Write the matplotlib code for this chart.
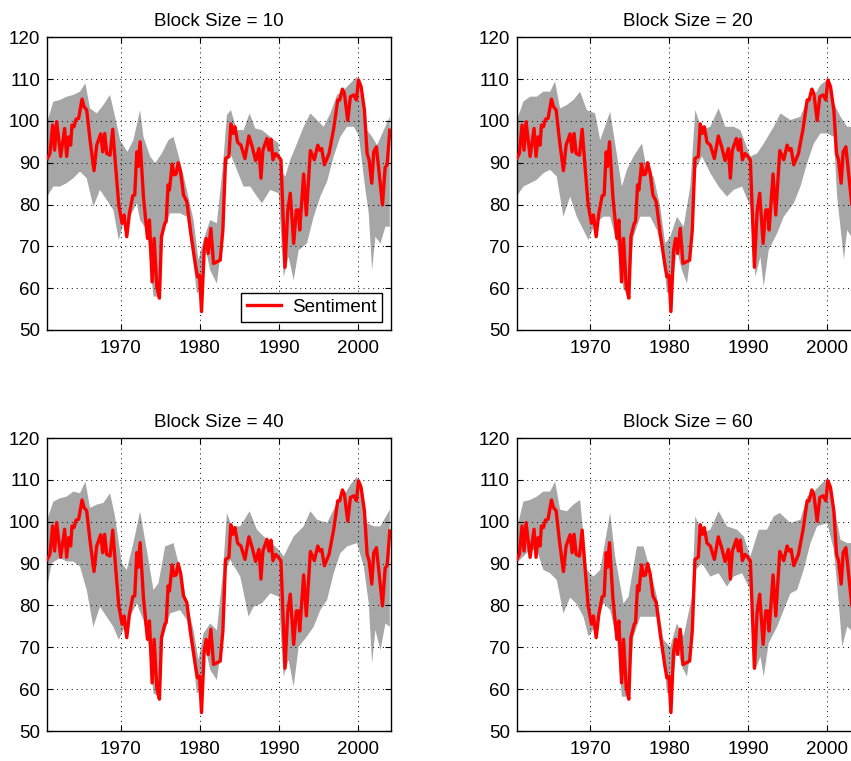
import numpy as np
import matplotlib
matplotlib.use("Agg")
import matplotlib.pyplot as plt

plt.rcParams['font.family'] = ['Liberation Sans', 'DejaVu Sans']

# sentiment series
sent_year = [1960.72, 1961.05, 1961.39, 1961.64, 1961.90, 1962.41, 1962.91, 1963.16, 1963.42,
             1963.67, 1963.84, 1964.09, 1964.35, 1964.68, 1965.11, 1965.36, 1965.70, 1966.12,
             1966.62, 1966.96, 1967.47, 1967.72, 1967.97, 1968.23, 1968.65, 1968.99, 1969.32,
             1969.75, 1970.17, 1970.42, 1970.76, 1971.10, 1971.52, 1971.77, 1972.03, 1972.19,
             1972.45, 1972.87, 1973.38, 1973.63, 1973.97, 1974.22, 1974.56, 1974.89, 1975.15,
             1975.57, 1975.74, 1975.99, 1976.16, 1976.50, 1976.75, 1977.00, 1977.26, 1977.59,
             1977.93, 1978.35, 1978.86, 1979.45, 1979.70, 1979.96, 1980.21, 1980.55, 1980.80,
             1981.05, 1981.39, 1981.73, 1982.15, 1982.57, 1982.91, 1983.25, 1983.67, 1983.92,
             1984.18, 1984.43, 1984.77, 1985.19, 1985.70, 1986.20, 1986.62, 1987.05, 1987.47,
             1987.72, 1987.97, 1988.48, 1988.73, 1988.99, 1989.24, 1989.58, 1989.92, 1990.25,
             1990.76, 1991.10, 1991.43, 1991.86, 1992.19, 1992.45, 1992.62, 1993.12, 1993.46,
             1993.97, 1994.47, 1994.90, 1995.15, 1995.40, 1995.74, 1996.33, 1996.92, 1997.43,
             1997.68, 1998.02, 1998.27, 1998.69, 1999.03, 1999.45, 1999.79, 2000.05, 2000.38,
             2000.80, 2001.14, 2001.39, 2001.73, 2001.98, 2002.32, 2002.66, 2003.08, 2003.42,
             2003.67, 2004.01]
sent_val = [91.0, 92.2, 99.0, 93.0, 99.8, 91.5, 98.2, 91.5, 96.2,
            94.2, 99.0, 98.6, 100.4, 100.6, 105.2, 103.4, 102.6, 95.4,
            88.1, 94.2, 96.9, 92.6, 97.0, 92.2, 91.8, 98.0, 89.9,
            79.9, 75.5, 77.5, 72.3, 77.9, 82.1, 82.3, 92.6, 89.1,
            95.0, 81.9, 71.9, 76.3, 61.5, 71.9, 60.4, 57.6, 72.3,
            75.5, 75.9, 84.7, 83.5, 89.7, 87.1, 87.3, 90.0, 87.5,
            82.3, 80.7, 73.1, 65.5, 62.7, 63.1, 54.4, 69.1, 71.9,
            68.3, 74.3, 65.9, 66.3, 66.7, 73.9, 91.0, 91.5, 99.3,
            97.0, 98.6, 94.9, 94.2, 91.0, 96.4, 93.8, 90.5, 93.4,
            86.3, 93.0, 95.8, 93.0, 95.6, 90.7, 92.2, 91.5, 90.7,
            65.0, 78.3, 82.7, 70.7, 78.7, 78.7, 73.9, 87.3, 77.5,
            92.9, 90.7, 94.2, 93.0, 93.4, 89.5, 92.2, 98.2, 105.0,
            105.0, 107.6, 106.6, 100.1, 105.8, 106.2, 105.0, 109.8, 108.2,
            102.6, 92.2, 90.7, 85.1, 92.6, 93.8, 87.5, 79.9, 88.9,
            89.5, 97.8]

block_sizes = [10, 20, 40, 60]

# bootstrap bands, one upper and one lower edge per block size
up_year = [
    [1960.72, 1961.48, 1962.32, 1963.16, 1964.01, 1964.85, 1965.53, 1966.12, 1966.96, 1967.81,
     1968.65, 1969.28, 1969.92, 1970.84, 1971.60, 1972.45, 1972.87, 1973.71, 1974.35, 1975.19,
     1976.03, 1976.67, 1977.51, 1978.36, 1979.20, 1979.83, 1980.46, 1981.31, 1982.15, 1982.91,
     1983.42, 1983.92, 1984.68, 1985.53, 1986.29, 1987.00, 1987.85, 1988.90, 1989.96, 1990.17,
     1990.80, 1991.43, 1992.28, 1993.12, 1993.97, 1994.81, 1995.65, 1996.50, 1997.34, 1998.19,
     1999.03, 1999.87, 2000.51, 2001.14, 2001.77, 2002.41, 2003.25, 2004.01],
    [1960.72, 1961.56, 1962.41, 1963.25, 1964.09, 1964.94, 1965.57, 1966.20, 1967.05, 1967.89,
     1968.73, 1969.58, 1970.63, 1971.27, 1972.53, 1973.16, 1974.01, 1974.64, 1975.49, 1976.54,
     1977.17, 1978.02, 1978.86, 1979.49, 1980.13, 1980.97, 1981.82, 1982.66, 1983.29, 1984.14,
     1985.19, 1986.24, 1987.09, 1988.14, 1988.99, 1990.25, 1991.10, 1991.94, 1993.21, 1994.05,
     1995.32, 1996.58, 1997.43, 1998.27, 1999.11, 1999.96, 2000.80, 2001.65, 2002.49, 2003.00,
     2004.01],
    [1960.72, 1961.48, 1962.32, 1963.16, 1964.01, 1964.85, 1965.53, 1966.12, 1966.96, 1967.81,
     1968.65, 1969.28, 1970.13, 1970.76, 1971.60, 1972.45, 1973.29, 1974.14, 1974.77, 1975.61,
     1976.67, 1977.51, 1978.36, 1979.20, 1979.83, 1980.46, 1981.31, 1982.15, 1982.91, 1983.42,
     1984.05, 1985.11, 1986.29, 1987.22, 1988.06, 1989.11, 1989.96, 1990.59, 1991.86, 1993.12,
     1993.97, 1994.81, 1996.08, 1997.13, 1997.97, 1999.03, 1999.87, 2000.51, 2001.14, 2001.98,
     2002.83, 2004.01],
    [1960.72, 1961.56, 1962.41, 1963.25, 1964.09, 1964.94, 1965.57, 1966.20, 1967.05, 1967.89,
     1968.73, 1969.58, 1970.42, 1971.27, 1972.53, 1973.16, 1974.22, 1974.85, 1975.91, 1976.75,
     1977.59, 1978.44, 1979.28, 1980.13, 1980.97, 1981.82, 1982.87, 1983.29, 1984.14, 1985.19,
     1986.24, 1987.30, 1988.57, 1989.41, 1990.25, 1991.31, 1992.36, 1993.21, 1993.97, 1995.32,
     1996.58, 1997.43, 1998.27, 1999.11, 1999.96, 2000.80, 2001.65, 2002.49, 2003.00, 2004.01],
]
up_val = [
    [99.8, 104.6, 105.0, 105.8, 106.2, 107.0, 109.0, 103.0, 101.8, 103.8,
     106.2, 101.0, 95.4, 92.6, 95.4, 102.6, 96.2, 91.5, 89.9, 92.2,
     95.4, 96.2, 90.3, 83.5, 76.3, 66.7, 71.5, 76.3, 75.5, 89.1,
     101.4, 102.6, 97.8, 97.8, 101.8, 98.2, 97.8, 96.2, 94.6, 88.3,
     86.7, 90.7, 94.6, 98.6, 101.8, 100.2, 98.6, 101.8, 106.2, 107.4,
     109.0, 110.6, 104.6, 97.8, 96.2, 94.2, 97.8, 101.0],
    [100.0, 104.6, 105.8, 105.8, 107.0, 107.0, 109.4, 103.0, 103.8, 105.0,
     107.0, 102.6, 101.8, 95.4, 102.2, 94.6, 84.3, 88.3, 91.5, 94.6,
     88.3, 86.7, 79.5, 70.7, 72.3, 77.1, 74.7, 84.3, 102.6, 97.8,
     98.6, 103.0, 98.6, 98.6, 97.8, 91.5, 92.2, 94.6, 98.6, 101.8,
     100.2, 101.0, 105.0, 105.8, 108.6, 109.8, 104.2, 101.0, 98.6, 98.6,
     100.0],
    [100.5, 104.8, 105.6, 106.0, 107.2, 106.8, 109.6, 103.3, 104.1, 104.5,
     106.8, 101.3, 90.1, 88.5, 94.9, 102.5, 93.3, 83.7, 85.3, 94.1,
     94.9, 88.5, 80.5, 74.1, 67.0, 73.3, 75.7, 74.1, 87.7, 102.1,
     98.9, 98.9, 102.5, 98.1, 96.5, 94.9, 93.3, 91.7, 96.5, 98.9,
     102.5, 100.5, 99.7, 103.7, 105.6, 108.8, 110.8, 105.2, 99.7, 98.9,
     98.9, 102.9],
    [98.1, 104.8, 105.2, 106.0, 107.2, 107.2, 109.6, 102.9, 102.5, 104.1,
     105.2, 88.5, 86.9, 88.5, 102.1, 91.7, 80.5, 82.1, 94.1, 94.1,
     88.5, 82.1, 71.8, 70.1, 75.7, 72.6, 82.1, 101.3, 97.3, 98.1,
     102.5, 98.9, 98.1, 96.5, 91.7, 98.1, 98.1, 101.3, 102.1, 99.7,
     100.5, 106.0, 107.2, 108.8, 110.4, 104.1, 95.7, 94.9, 94.9, 96.0],
]
lo_year = [
    [1960.72, 1961.48, 1962.32, 1963.16, 1964.01, 1964.85, 1965.70, 1966.54, 1967.38, 1968.23,
     1969.07, 1969.75, 1970.34, 1971.18, 1972.03, 1972.45, 1973.29, 1974.14, 1974.77, 1975.40,
     1976.24, 1977.51, 1978.36, 1979.20, 1979.62, 1980.21, 1980.68, 1981.31, 1982.15, 1982.78,
     1983.21, 1983.84, 1984.68, 1985.53, 1986.37, 1987.22, 1987.85, 1988.90, 1989.96, 1990.59,
     1991.22, 1991.86, 1992.49, 1993.54, 1994.39, 1995.23, 1996.08, 1996.92, 1997.76, 1998.61,
     1999.45, 2000.08, 2000.93, 2001.35, 2001.77, 2002.19, 2002.83, 2003.46, 2004.01],
    [1960.72, 1961.56, 1962.41, 1963.25, 1964.09, 1964.94, 1965.78, 1966.62, 1967.47, 1968.31,
     1969.16, 1969.79, 1970.63, 1971.69, 1972.53, 1973.38, 1974.22, 1974.85, 1975.49, 1976.33,
     1977.59, 1978.44, 1979.28, 1979.70, 1980.34, 1980.97, 1981.60, 1982.24, 1982.87, 1983.29,
     1984.14, 1985.19, 1986.24, 1987.30, 1988.14, 1989.20, 1990.25, 1990.89, 1991.52, 1991.94,
     1992.57, 1993.63, 1994.47, 1995.74, 1996.58, 1997.43, 1998.27, 1999.11, 1999.96, 2000.80,
     2001.22, 2001.86, 2002.07, 2002.49, 2003.00, 2004.01],
    [1960.72, 1961.27, 1962.32, 1963.16, 1964.01, 1964.85, 1965.70, 1966.54, 1967.38, 1968.23,
     1969.07, 1969.75, 1970.34, 1971.18, 1972.03, 1972.87, 1973.50, 1974.14, 1974.77, 1975.40,
     1976.24, 1977.51, 1978.36, 1979.20, 1979.62, 1980.21, 1980.68, 1981.31, 1982.15, 1982.78,
     1983.21, 1983.84, 1985.11, 1986.16, 1986.79, 1987.85, 1988.90, 1989.96, 1990.59, 1991.22,
     1991.86, 1992.49, 1993.54, 1994.39, 1995.23, 1996.08, 1996.92, 1997.76, 1998.61, 1999.87,
     2000.72, 2001.35, 2001.77, 2002.19, 2002.83, 2003.46, 2004.01],
    [1960.72, 1961.56, 1962.41, 1963.25, 1964.09, 1964.94, 1965.78, 1966.62, 1967.47, 1968.31,
     1969.16, 1969.79, 1970.63, 1971.69, 1972.53, 1973.38, 1974.01, 1974.85, 1975.49, 1976.33,
     1977.59, 1978.44, 1979.28, 1979.70, 1980.34, 1980.97, 1981.60, 1982.24, 1982.87, 1983.29,
     1984.14, 1985.19, 1986.24, 1987.30, 1988.14, 1989.20, 1990.25, 1990.89, 1991.52, 1991.94,
     1992.57, 1993.63, 1994.47, 1995.32, 1996.16, 1996.99, 1997.85, 1998.69, 1999.96, 2000.80,
     2001.43, 2001.86, 2002.49, 2003.00, 2004.01],
]
lo_val = [
    [81.9, 84.3, 84.3, 85.1, 86.3, 87.9, 86.3, 79.5, 83.5, 81.1,
     78.7, 71.5, 75.5, 77.1, 80.3, 76.3, 73.9, 58.0, 58.0, 73.9,
     77.9, 77.9, 77.1, 65.9, 58.8, 59.6, 69.9, 64.3, 61.1, 70.7,
     88.3, 92.2, 88.3, 84.3, 84.3, 81.9, 80.3, 83.5, 82.7, 62.7,
     67.5, 61.9, 69.1, 70.7, 77.1, 81.9, 85.5, 91.5, 96.2, 98.6,
     98.6, 96.6, 83.5, 77.9, 64.3, 72.3, 70.7, 74.7, 74.7],
    [81.9, 84.3, 85.1, 85.9, 87.5, 88.3, 86.7, 77.1, 81.9, 77.1,
     73.9, 71.5, 75.5, 77.1, 77.1, 70.7, 59.6, 58.8, 72.3, 77.1,
     77.1, 73.9, 67.5, 58.8, 59.6, 69.1, 64.3, 61.1, 70.7, 88.3,
     91.5, 87.5, 84.3, 81.9, 83.5, 84.3, 79.5, 62.7, 67.5, 60.4,
     69.1, 73.1, 77.1, 80.3, 84.3, 89.9, 94.6, 97.0, 97.0, 96.2,
     81.9, 70.7, 66.9, 73.9, 72.3, 72.0],
    [84.5, 90.1, 91.3, 90.5, 90.5, 89.3, 83.7, 74.9, 79.7, 77.3,
     74.9, 71.8, 74.1, 77.3, 80.5, 76.5, 70.9, 59.0, 58.2, 72.6,
     78.1, 78.9, 76.5, 66.2, 59.0, 59.8, 70.1, 64.6, 62.2, 70.9,
     88.5, 90.9, 86.9, 77.3, 79.7, 80.5, 82.9, 82.1, 63.0, 67.0,
     60.6, 70.1, 72.6, 74.9, 78.9, 81.3, 87.7, 92.5, 94.1, 94.9,
     89.3, 80.5, 66.2, 74.1, 69.3, 75.7, 74.9],
    [90.1, 91.7, 93.3, 93.3, 88.5, 87.7, 86.1, 78.1, 81.9, 80.3,
     77.3, 72.6, 74.9, 80.5, 78.9, 71.8, 58.2, 58.2, 72.6, 77.3,
     77.3, 77.3, 68.5, 59.0, 59.8, 70.1, 65.4, 63.0, 71.8, 88.5,
     90.1, 86.9, 87.7, 84.5, 86.9, 87.7, 83.7, 64.6, 67.8, 63.0,
     71.0, 74.9, 78.9, 82.9, 83.7, 88.5, 94.9, 98.9, 99.7, 93.3,
     80.5, 70.1, 74.9, 74.1, 74.0],
]

x_ticks = [1970, 1980, 1990, 2000]
y_ticks = [50, 60, 70, 80, 90, 100, 110, 120]

fig = plt.figure(figsize=(8.51, 7.61), dpi=100)

# axes positions in figure fractions (right column runs off the edge like the original)
positions = [
    [0.0556, 0.5664, 0.4033, 0.3846],
    [0.6072, 0.5664, 0.4033, 0.3846],
    [0.0556, 0.0394, 0.4033, 0.3850],
    [0.6072, 0.0394, 0.4033, 0.3850],
]

fs = 13.5

for i in range(4):
    ax = fig.add_axes(positions[i])
    xs = np.concatenate([up_year[i], lo_year[i][::-1]])
    ys = np.concatenate([up_val[i], lo_val[i][::-1]])
    ax.fill(xs, ys, color='#a6a6a6', linewidth=0, zorder=1)
    ax.plot(sent_year, sent_val, color='red', linewidth=2.4, zorder=3, label='Sentiment')

    ax.set_xlim(1960.72, 2004.1)
    ax.set_ylim(50, 120)
    ax.set_xticks(x_ticks)
    ax.set_yticks(y_ticks)
    ax.grid(True, color='black', linestyle=(0, (1, 4)), linewidth=0.7, zorder=2)
    ax.set_axisbelow(False)
    ax.tick_params(direction='in', top=True, right=True, length=4, width=0.8,
                   labelsize=fs, colors='black')
    ax.tick_params(axis='x', pad=7)
    ax.tick_params(axis='y', pad=5)
    for sp in ax.spines.values():
        sp.set_linewidth(1.0)
    ax.set_title('Block Size = %d' % block_sizes[i], fontsize=fs, pad=8)

    if i == 0:
        leg = ax.legend(loc='lower right', fancybox=False, framealpha=1,
                        edgecolor='black', fontsize=fs, borderaxespad=0.45,
                        handlelength=1.8, handletextpad=0.6, borderpad=0.3)
        leg.get_frame().set_linewidth(1.0)

fig.savefig('out.png', dpi=100)
